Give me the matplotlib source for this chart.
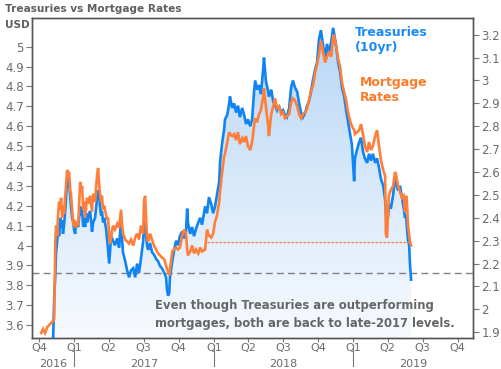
import matplotlib
matplotlib.use("Agg")
import matplotlib.pyplot as plt
import matplotlib.dates as mdates
import numpy as np
import pandas as pd
from matplotlib.colors import LinearSegmentedColormap

# ---------------- data ----------------
dates = [
    "2016-10-06", "2016-10-11", "2016-10-16", "2016-10-22", "2016-10-27", "2016-11-01", "2016-11-06",
    "2016-11-09", "2016-11-12", "2016-11-14", "2016-11-17", "2016-11-19", "2016-11-22", "2016-11-25",
    "2016-11-27", "2016-11-30", "2016-12-02", "2016-12-05", "2016-12-08", "2016-12-10", "2016-12-13",
    "2016-12-16", "2016-12-18", "2016-12-21", "2016-12-23", "2016-12-26", "2016-12-29", "2016-12-31",
    "2017-01-03", "2017-01-05", "2017-01-11", "2017-01-16", "2017-01-19", "2017-01-21", "2017-01-24",
    "2017-01-26", "2017-01-29", "2017-02-01", "2017-02-03", "2017-02-06", "2017-02-11", "2017-02-14",
    "2017-02-16", "2017-02-19", "2017-02-24", "2017-03-01", "2017-03-04", "2017-03-07", "2017-03-09",
    "2017-03-12", "2017-03-14", "2017-03-17", "2017-03-20", "2017-03-25", "2017-03-28", "2017-03-30",
    "2017-04-02", "2017-04-04", "2017-04-07", "2017-04-12", "2017-04-17", "2017-04-23", "2017-04-28",
    "2017-05-03", "2017-05-06", "2017-05-08", "2017-05-14", "2017-05-19", "2017-05-24", "2017-05-29",
    "2017-06-04", "2017-06-09", "2017-06-14", "2017-06-19", "2017-06-24", "2017-06-30", "2017-07-02",
    "2017-07-05", "2017-07-08", "2017-07-10", "2017-07-13", "2017-07-18", "2017-07-23", "2017-07-28",
    "2017-08-03", "2017-08-08", "2017-08-13", "2017-08-18", "2017-08-24", "2017-08-29", "2017-08-31",
    "2017-09-03", "2017-09-06", "2017-09-08", "2017-09-14", "2017-09-19", "2017-09-24", "2017-09-29",
    "2017-10-04", "2017-10-10", "2017-10-15", "2017-10-20", "2017-10-23", "2017-10-25", "2017-10-31",
    "2017-11-05", "2017-11-10", "2017-11-15", "2017-11-21", "2017-11-26", "2017-12-01", "2017-12-09",
    "2017-12-14", "2017-12-19", "2017-12-25", "2017-12-30", "2018-01-04", "2018-01-09", "2018-01-15",
    "2018-01-17", "2018-01-22", "2018-01-28", "2018-01-30", "2018-02-05", "2018-02-10", "2018-02-12",
    "2018-02-18", "2018-02-23", "2018-02-28", "2018-03-05", "2018-03-10", "2018-03-16", "2018-03-21",
    "2018-03-26", "2018-03-31", "2018-04-06", "2018-04-11", "2018-04-16", "2018-04-19", "2018-04-24",
    "2018-04-29", "2018-05-04", "2018-05-10", "2018-05-12", "2018-05-17", "2018-05-23", "2018-05-25",
    "2018-05-31", "2018-06-05", "2018-06-10", "2018-06-15", "2018-06-20", "2018-06-26", "2018-07-01",
    "2018-07-06", "2018-07-11", "2018-07-17", "2018-07-22", "2018-07-27", "2018-08-01", "2018-08-07",
    "2018-08-12", "2018-08-17", "2018-08-22", "2018-08-28", "2018-09-02", "2018-09-07", "2018-09-12",
    "2018-09-17", "2018-09-23", "2018-09-28", "2018-10-03", "2018-10-08", "2018-10-14", "2018-10-19",
    "2018-10-24", "2018-10-29", "2018-11-04", "2018-11-09", "2018-11-11", "2018-11-17", "2018-11-22",
    "2018-11-27", "2018-12-02", "2018-12-08", "2018-12-13", "2018-12-18", "2018-12-23", "2018-12-28",
    "2019-01-03", "2019-01-05", "2019-01-11", "2019-01-16", "2019-01-21", "2019-01-26", "2019-01-31",
    "2019-02-06", "2019-02-11", "2019-02-16", "2019-02-21", "2019-02-27", "2019-03-04", "2019-03-09",
    "2019-03-14", "2019-03-20", "2019-03-25", "2019-03-27", "2019-03-30", "2019-04-02", "2019-04-04",
    "2019-04-09", "2019-04-15", "2019-04-20", "2019-04-23", "2019-04-28", "2019-05-03", "2019-05-08",
    "2019-05-13", "2019-05-16", "2019-05-19", "2019-05-21", "2019-05-24", "2019-05-27", "2019-05-29",
    "2019-06-01",
]

mortgage = [
    3.56, 3.58, 3.56, 3.59, 3.60, 3.61, 3.62,
    3.63, 4.02, 4.10, 4.05, 4.15, 4.22, 4.18,
    4.24, 4.14, 4.20, 4.16, 4.25, 4.30, 4.38,
    4.36, 4.37, 4.28, 4.26, 4.18, 4.10, 4.13,
    4.09, 4.12, 4.10, 4.32, 4.27, 4.30, 4.18,
    4.22, 4.14, 4.20, 4.24, 4.21, 4.25, 4.20,
    4.17, 4.26, 4.22, 4.35, 4.39, 4.30, 4.26,
    4.22, 4.25, 4.18, 4.20, 4.15, 4.13, 4.14,
    4.05, 4.01, 4.04, 4.10, 4.08, 4.11, 4.09,
    4.18, 4.10, 4.06, 4.03, 4.02, 4.01, 4.03,
    4.00, 4.04, 4.06, 4.03, 4.10, 4.06, 4.22,
    4.25, 4.12, 4.05, 4.02, 4.06, 4.03, 4.00,
    3.98, 3.96, 3.95, 3.94, 3.93, 3.90, 3.88,
    3.87, 3.85, 3.88, 3.97, 3.98, 3.99, 3.98,
    3.99, 4.05, 4.08, 4.06, 3.98, 3.95, 3.97,
    4.00, 3.96, 3.98, 3.96, 3.99, 3.97, 3.98,
    4.08, 4.05, 4.04, 4.06, 4.12, 4.15, 4.22,
    4.27, 4.36, 4.45, 4.46, 4.52, 4.57, 4.56,
    4.55, 4.56, 4.53, 4.57, 4.51, 4.54, 4.52,
    4.55, 4.50, 4.48, 4.52, 4.60, 4.64, 4.62,
    4.66, 4.68, 4.75, 4.79, 4.70, 4.60, 4.55,
    4.66, 4.70, 4.74, 4.69, 4.70, 4.66, 4.67,
    4.64, 4.65, 4.66, 4.72, 4.74, 4.73, 4.70,
    4.66, 4.64, 4.66, 4.67, 4.69, 4.73, 4.78,
    4.80, 4.87, 4.91, 4.96, 5.03, 4.97, 4.92,
    4.95, 4.97, 4.95, 5.05, 5.06, 5.00, 4.94,
    4.90, 4.82, 4.77, 4.73, 4.67, 4.63, 4.60,
    4.58, 4.56, 4.57, 4.58, 4.61, 4.56, 4.50,
    4.47, 4.52, 4.48, 4.50, 4.55, 4.58, 4.50,
    4.43, 4.38, 4.35, 4.06, 4.04, 4.18, 4.25,
    4.28, 4.30, 4.37, 4.35, 4.30, 4.27, 4.24,
    4.25, 4.17, 4.25, 4.22, 4.10, 4.05, 4.02,
    4.00,
]

treasuries = [
    1.74, 1.76, 1.77, 1.79, 1.80, 1.82, 1.85,
    2.05, 2.15, 2.25, 2.30, 2.35, 2.32, 2.40,
    2.36, 2.39, 2.33, 2.37, 2.44, 2.48, 2.58,
    2.60, 2.55, 2.50, 2.45, 2.40, 2.38, 2.35,
    2.33, 2.38, 2.36, 2.45, 2.41, 2.44, 2.36,
    2.40, 2.36, 2.42, 2.38, 2.40, 2.43, 2.38,
    2.34, 2.38, 2.40, 2.48, 2.52, 2.50, 2.45,
    2.41, 2.43, 2.38, 2.40, 2.35, 2.30, 2.26,
    2.20, 2.25, 2.32, 2.30, 2.28, 2.31, 2.27,
    2.40, 2.30, 2.25, 2.21, 2.17, 2.14, 2.17,
    2.18, 2.14, 2.20, 2.16, 2.22, 2.30, 2.37,
    2.38, 2.32, 2.28, 2.26, 2.29, 2.25, 2.24,
    2.22, 2.21, 2.19, 2.18, 2.16, 2.14, 2.09,
    2.06, 2.07, 2.14, 2.21, 2.26, 2.30, 2.28,
    2.32, 2.34, 2.31, 2.34, 2.44, 2.38, 2.33,
    2.36, 2.32, 2.35, 2.38, 2.40, 2.37, 2.45,
    2.42, 2.49, 2.46, 2.42, 2.45, 2.50, 2.56,
    2.64, 2.72, 2.79, 2.83, 2.85, 2.90, 2.93,
    2.88, 2.90, 2.86, 2.89, 2.84, 2.88, 2.85,
    2.81, 2.83, 2.80, 2.83, 2.95, 3.00, 2.96,
    2.98, 2.94, 3.05, 3.10, 3.00, 2.95, 2.93,
    2.96, 2.91, 2.89, 2.87, 2.89, 2.86, 2.87,
    2.85, 2.84, 2.88, 2.97, 3.00, 2.97, 2.95,
    2.90, 2.86, 2.84, 2.86, 2.89, 2.91, 2.95,
    3.00, 3.05, 3.08, 3.18, 3.22, 3.15, 3.10,
    3.16, 3.12, 3.17, 3.23, 3.21, 3.15, 3.08,
    3.04, 2.97, 2.93, 2.87, 2.82, 2.77, 2.72,
    2.56, 2.66, 2.70, 2.73, 2.75, 2.69, 2.66,
    2.64, 2.68, 2.65, 2.68, 2.64, 2.66, 2.62,
    2.57, 2.54, 2.48, 2.42, 2.38, 2.41, 2.46,
    2.44, 2.50, 2.58, 2.55, 2.52, 2.54, 2.49,
    2.44, 2.40, 2.41, 2.36, 2.30, 2.28, 2.20,
    2.13,
]

mortgage_ref_level = 4.02      # orange dotted reference
mortgage_ref_start = "2017-12-14"
treasury_ref_level = 2.16      # gray dashed reference

left_ticks = [3.6, 3.7, 3.8, 3.9, 4.0, 4.1, 4.2, 4.3, 4.4, 4.5, 4.6, 4.7, 4.8, 4.9, 5.0]
right_ticks = [1.9, 2.0, 2.1, 2.2, 2.3, 2.4, 2.5, 2.6, 2.7, 2.8, 2.9, 3.0, 3.1, 3.2]
quarter_starts = pd.date_range("2016-10-01", "2019-10-01", freq="QS")
years = [2016, 2017, 2018, 2019]

title = "Treasuries vs Mortgage Rates"
note = "Even though Treasuries are outperforming\nmortgages, both are back to late-2017 levels."

# ---------------- style ----------------
BLUE = "#0f84f2"
ORANGE = "#ff7f3a"
GRAY = "#5f5f5f"
TICK_GRAY = "#6b6b6b"
plt.rcParams["font.family"] = ["DejaVu Sans"]

d = pd.to_datetime(dates)
fig = plt.figure(figsize=(5.02, 3.69), dpi=100)
ax = fig.add_axes([32 / 502, 31 / 369, 441 / 502, 320 / 369])
ax2 = ax.twinx()

xmin = pd.Timestamp("2016-09-12")
xmax = pd.Timestamp("2019-11-10")
ax.set_xlim(xmin, xmax)
ax.set_ylim(3.535, 5.144)
ax2.set_ylim(1.875, 3.273)

# --- gradient fill under treasuries (on ax2) ---
poly = ax2.fill_between(d, treasuries, 1.0, color="none", lw=0)
cmap = LinearSegmentedColormap.from_list("g", ["#f7fafe", "#b6d6f6"])
grad = np.linspace(0, 1, 256).reshape(-1, 1)
im = ax2.imshow(grad, cmap=cmap, aspect="auto", origin="lower",
                extent=[mdates.date2num(xmin), mdates.date2num(xmax), 1.875, 3.273],
                zorder=1)
im.set_clip_path(poly.get_paths()[0], transform=ax2.transData)
ax2.set_xlim(xmin, xmax)
ax2.set_ylim(1.875, 3.273)

ax2.plot(d, treasuries, color=BLUE, lw=1.9, zorder=3, solid_joinstyle="miter")
ax2.axhline(treasury_ref_level, color="#808080", lw=1.0, ls=(0, (5, 3)), zorder=2)

ax.plot(d, mortgage, color=ORANGE, lw=1.9, zorder=3, solid_joinstyle="miter")
ax.plot([pd.Timestamp(mortgage_ref_start), d[-1]], [mortgage_ref_level, mortgage_ref_level],
        color=ORANGE, lw=0.9, ls=(0, (2, 1.2)), zorder=2)

ax.set_zorder(ax2.get_zorder() + 1)
ax.patch.set_visible(False)

# --- axes styling ---
for a in (ax, ax2):
    for s in a.spines.values():
        s.set_color("#555555")
        s.set_linewidth(1.0)

ax.set_yticks(left_ticks)
ax.set_yticklabels([f"{v:g}" for v in left_ticks])
ax2.set_yticks(right_ticks)
ax2.set_yticklabels([f"{v:g}" for v in right_ticks])
ax.tick_params(axis="y", length=4, width=0.8, color="#777777", labelsize=8.5,
               labelcolor=TICK_GRAY, pad=2)
ax2.tick_params(axis="y", length=4, width=0.8, color="#777777", labelsize=8.5,
                labelcolor=TICK_GRAY, pad=2)

ax.set_xticks(quarter_starts)
ax.set_xticklabels([f"Q{(q.month - 1) // 3 + 1}" for q in quarter_starts])
ax.tick_params(axis="x", length=3, width=0.8, color="#777777", labelsize=8,
               labelcolor=TICK_GRAY, pad=0.5)

# year separators and labels
trans = ax.get_xaxis_transform()
for y in years[1:]:
    ax.plot([pd.Timestamp(f"{y}-01-01")] * 2, [-0.022, -0.088], transform=trans,
            color="#777777", lw=0.8, clip_on=False)
for y in years:
    lo = max(pd.Timestamp(f"{y}-01-01"), xmin)
    hi = min(pd.Timestamp(f"{y + 1}-01-01"), xmax)
    mid = lo + (hi - lo) / 2
    ax.text(mid, -0.082, str(y), transform=trans, ha="center", va="center",
            fontsize=8, color=TICK_GRAY)

# --- texts ---
fig.text(5 / 502, 1 - 9 / 369, title, ha="left", va="center", fontsize=7.6,
         fontweight="bold", color=GRAY)
fig.text(17 / 502, 1 - 25 / 369, "USD", ha="center", va="center", fontsize=7.6,
         fontweight="bold", color=GRAY)
fig.text(355 / 502, 1 - 40 / 369, "Treasuries\n(10yr)", ha="left", va="center",
         fontsize=9, fontweight="bold", color="#1a8af5", linespacing=1.25)
fig.text(360 / 502, 1 - 90 / 369, "Mortgage\nRates", ha="left", va="center",
         fontsize=9, fontweight="bold", color="#ff7a26", linespacing=1.25)
fig.text(155 / 502, 1 - 314.5 / 369, note, ha="left", va="center", fontsize=8.4,
         fontweight="bold", color="#666666", linespacing=1.45)

fig.savefig("out.png", dpi=100)
